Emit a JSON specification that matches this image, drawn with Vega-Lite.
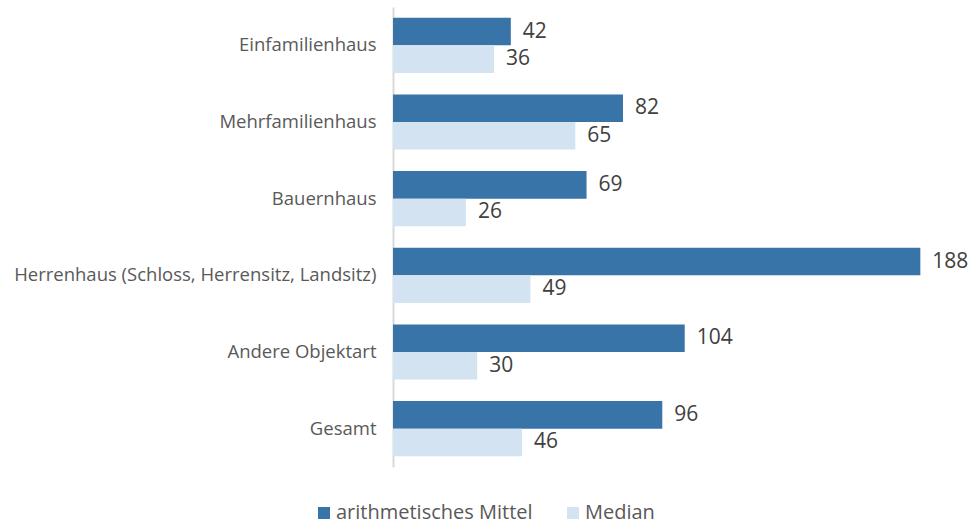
{
  "$schema": "https://vega.github.io/schema/vega-lite/v6.json",
  "autosize": {"type": "none"},
  "width": 561,
  "height": 460,
  "padding": {"left": 393, "top": 7, "right": 14, "bottom": 59},
  "background": "white",
  "config": {"view": {"stroke": null}, "font": "Open Sans"},
  "data": {
    "values": [
      {"kategorie": "Einfamilienhaus", "serie": "arithmetisches Mittel", "wert": 42},
      {"kategorie": "Einfamilienhaus", "serie": "Median", "wert": 36},
      {"kategorie": "Mehrfamilienhaus", "serie": "arithmetisches Mittel", "wert": 82},
      {"kategorie": "Mehrfamilienhaus", "serie": "Median", "wert": 65},
      {"kategorie": "Bauernhaus", "serie": "arithmetisches Mittel", "wert": 69},
      {"kategorie": "Bauernhaus", "serie": "Median", "wert": 26},
      {"kategorie": "Herrenhaus (Schloss, Herrensitz, Landsitz)", "serie": "arithmetisches Mittel", "wert": 188},
      {"kategorie": "Herrenhaus (Schloss, Herrensitz, Landsitz)", "serie": "Median", "wert": 49},
      {"kategorie": "Andere Objektart", "serie": "arithmetisches Mittel", "wert": 104},
      {"kategorie": "Andere Objektart", "serie": "Median", "wert": 30},
      {"kategorie": "Gesamt", "serie": "arithmetisches Mittel", "wert": 96},
      {"kategorie": "Gesamt", "serie": "Median", "wert": 46}
    ]
  },
  "encoding": {
    "y": {
      "field": "kategorie",
      "type": "nominal",
      "sort": null,
      "scale": {"paddingInner": 0.28, "paddingOuter": 0.14},
      "axis": {
        "title": null,
        "ticks": false,
        "labelPadding": 17,
        "labelFontSize": 18.5,
        "labelColor": "#595959",
        "labelLimit": 420,
        "domainColor": "#d9d9d9",
        "domainWidth": 2,
        "grid": false
      }
    },
    "yOffset": {"field": "serie", "type": "nominal", "sort": ["arithmetisches Mittel", "Median"]},
    "x": {
      "field": "wert",
      "type": "quantitative",
      "scale": {"domain": [0, 200], "nice": false},
      "axis": null
    }
  },
  "layer": [
    {
      "mark": {"type": "bar"},
      "encoding": {
        "color": {
          "field": "serie",
          "type": "nominal",
          "sort": ["arithmetisches Mittel", "Median"],
          "scale": {"domain": ["arithmetisches Mittel", "Median"], "range": ["#3874a8", "#d4e3f1"]},
          "legend": {
            "title": null,
            "orient": "none",
            "direction": "horizontal",
            "legendX": -79,
            "legendY": 496,
            "symbolType": "square",
            "symbolSize": 144,
            "symbolStrokeWidth": 0,
            "labelFontSize": 20,
            "labelColor": "#595959",
            "labelLimit": 400,
            "columnPadding": 30,
            "labelOffset": 2
          }
        }
      }
    },
    {
      "mark": {"type": "text", "align": "left", "baseline": "middle", "dx": 12, "fontSize": 21, "color": "#404040"},
      "encoding": {"text": {"field": "wert", "type": "quantitative"}}
    }
  ]
}
